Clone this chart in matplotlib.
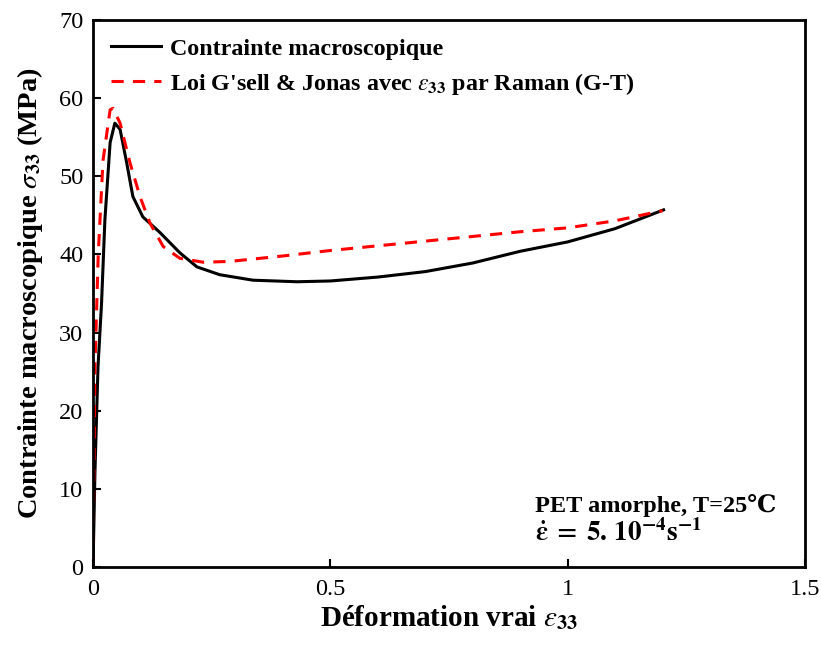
import numpy as np
from matplotlib import pyplot as plt

plt.rcParams['font.family'] = ['Liberation Serif', 'DejaVu Serif']
plt.rcParams['mathtext.fontset'] = 'stix'

strainExp = [0, 0.004, 0.0105, 0.018, 0.025, 0.036, 0.046, 0.057, 0.071, 0.084,
             0.105, 0.141, 0.183, 0.219, 0.267, 0.337, 0.43, 0.5, 0.6, 0.7,
             0.8, 0.9, 1.0, 1.1, 1.202]
stressExp = [0, 12.0, 25.6, 33.8, 44.4, 54.3, 56.8, 56.0, 51.7, 47.4,
             44.8, 42.8, 40.2, 38.4, 37.4, 36.7, 36.5, 36.6, 37.1, 37.8,
             38.9, 40.4, 41.6, 43.3, 45.7]

# -- G'sell & Jonas model --
strainGJ = [0, 0.004, 0.011, 0.021, 0.036, 0.042, 0.057, 0.078, 0.099, 0.12,
            0.148, 0.183, 0.232, 0.288, 0.4, 0.5, 0.6, 0.7, 0.8, 0.9,
            1.0, 1.1, 1.2]
stressGJ = [0, 25.6, 40.0, 52.0, 58.5, 58.7, 56.8, 51.7, 47.4, 44.0,
            41.0, 39.5, 39.0, 39.1, 39.8, 40.5, 41.1, 41.7, 42.3, 42.9,
            43.4, 44.3, 45.6]

fig = plt.figure(figsize=(8.21, 6.49), dpi=100)
ax = fig.add_axes([0.1133, 0.1264, 0.8672, 0.8428])

ax.plot(strainExp, stressExp, color='k', lw=2.2, label='Contrainte macroscopique')
ax.plot(strainGJ, stressGJ, color='r', lw=2.2, ls=(0, (4, 3)),
        label=r"Loi G'sell & Jonas avec $\epsilon_{\mathbf{33}}$ par Raman (G-T)")

ax.set_xlim(0, 1.5)
ax.set_ylim(0, 70)
ax.set_xticks([0, 0.5, 1, 1.5])
ax.set_xticklabels(['0', '0.5', '1', '1.5'])
ax.set_yticks(np.arange(0, 71, 10))
ax.tick_params(direction='in', labelsize=17.5, width=1.5, length=6)
ax.tick_params(axis='x', pad=9)
ax.tick_params(axis='y', pad=7)
for sp in ax.spines.values():
    sp.set_linewidth(2)

ax.set_xlabel(r'Déformation vrai $\epsilon_{\mathbf{33}}$', fontsize=21, fontweight='bold', labelpad=2)
ax.set_ylabel(r'Contrainte macroscopique $\sigma_{\mathbf{33}}$ (MPa)', fontsize=20.5,
              fontweight='bold', labelpad=10)

leg = ax.legend(loc='upper left', frameon=False, prop={'weight': 'bold', 'size': 17.3},
                handlelength=2.1, handletextpad=0.35, borderaxespad=0.35, labelspacing=0.45)

ax.text(0.621, 0.1, 'PET amorphe, T=25℃', transform=ax.transAxes, fontsize=17.5,
        fontweight='bold', family=['Liberation Serif', 'DejaVu Serif'])
ax.text(0.621, 0.048, r'$\mathbf{\dot{\varepsilon}\; =\; 5.\,10^{-4}s^{-1}}$', transform=ax.transAxes,
        fontsize=19.5)

fig.savefig('out.png', dpi=100)
